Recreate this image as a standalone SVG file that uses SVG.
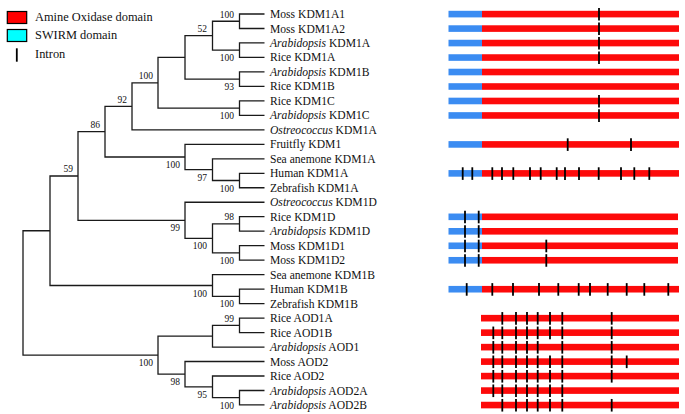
<svg xmlns="http://www.w3.org/2000/svg" xmlns:xlink="http://www.w3.org/1999/xlink" width="685" height="414" viewBox="0 0 685 414">
<style>
.br{fill:none;stroke:#1a1a1a;stroke-width:1.3}
.bs{font-family:"Liberation Serif","Times New Roman",serif;font-size:9.5px;fill:#111;text-anchor:end}
.lf{font-family:"Liberation Serif","Times New Roman",serif;font-size:11.6px;fill:#111}
.lg{font-family:"Liberation Serif","Times New Roman",serif;font-size:12.4px;fill:#111}
.it{font-style:italic}
.ao{fill:#fd0a0a}
.sw{fill:#3b8cf2}
.in{stroke:#000;stroke-width:1.8}
</style>
<defs>
<path id="in" class="in" d="M0 -6V6.6"/>
</defs>
<rect width="685" height="414" fill="#fff"/>
<g id="legend">
<rect x="7.3" y="11.5" width="19.4" height="12" fill="#ff0000" stroke="#000" stroke-width="1.2"/>
<rect x="7.3" y="29.5" width="19.4" height="12" fill="#00ffff" stroke="#000" stroke-width="1.2"/>
<path d="M16.8 48.3V61.7" stroke="#000" stroke-width="1.8"/>
<text class="lg" x="35" y="20.8">Amine Oxidase domain</text>
<text class="lg" x="35" y="39">SWIRM domain</text>
<text class="lg" x="35" y="58">Intron</text>
</g>
<g id="connectors">
<path class="br" d="M264.5 14H239.5V28.48H264.5"/>
<path class="br" d="M264.5 42.96H239.5V57.44H264.5"/>
<path class="br" d="M239.5 21.24H212.5V50.2H239.5"/>
<path class="br" d="M264.5 71.92H239.5V86.4H264.5"/>
<path class="br" d="M212.5 35.72H185V79.16H239.5"/>
<path class="br" d="M264.5 100.88H239.5V115.36H264.5"/>
<path class="br" d="M185 57.44H158V108.12H239.5"/>
<path class="br" d="M158 82.78H132V129.84H264.5"/>
<path class="br" d="M264.5 173.28H239.5V187.76H264.5"/>
<path class="br" d="M264.5 158.8H212.5V180.52H239.5"/>
<path class="br" d="M264.5 144.32H185V169.66H212.5"/>
<path class="br" d="M132 106.31H105V156.99H185"/>
<path class="br" d="M264.5 216.72H239.5V231.2H264.5"/>
<path class="br" d="M264.5 245.68H239.5V260.16H264.5"/>
<path class="br" d="M239.5 223.96H212.5V252.92H239.5"/>
<path class="br" d="M264.5 202.24H185V238.44H212.5"/>
<path class="br" d="M105 131.65H78V220.34H185"/>
<path class="br" d="M264.5 289.12H239.5V303.6H264.5"/>
<path class="br" d="M264.5 274.64H212.5V296.36H239.5"/>
<path class="br" d="M78 175.99H50V285.5H212.5"/>
<path class="br" d="M264.5 318.08H239.5V332.56H264.5"/>
<path class="br" d="M239.5 325.32H212.5V347.04H264.5"/>
<path class="br" d="M264.5 390.48H239.5V404.96H264.5"/>
<path class="br" d="M264.5 376H212.5V397.72H239.5"/>
<path class="br" d="M264.5 361.52H185V386.86H212.5"/>
<path class="br" d="M212.5 336.18H158V374.19H185"/>
<path class="br" d="M50 230.75H23V355.19H158"/>
</g>
<g id="bootstrap">
<text class="bs" x="234" y="17.5">100</text>
<text class="bs" x="234" y="61.2">100</text>
<text class="bs" x="207" y="32">52</text>
<text class="bs" x="234" y="89.5">93</text>
<text class="bs" x="234" y="119">100</text>
<text class="bs" x="153" y="79">100</text>
<text class="bs" x="127" y="102.6">92</text>
<text class="bs" x="100" y="128">86</text>
<text class="bs" x="180" y="168">100</text>
<text class="bs" x="207" y="180.7">97</text>
<text class="bs" x="234" y="191.5">100</text>
<text class="bs" x="234" y="220.3">98</text>
<text class="bs" x="180" y="231.3">99</text>
<text class="bs" x="207" y="249.4">100</text>
<text class="bs" x="234" y="264">100</text>
<text class="bs" x="73" y="172.3">59</text>
<text class="bs" x="207" y="296.5">100</text>
<text class="bs" x="234" y="307.4">100</text>
<text class="bs" x="234" y="321.6">99</text>
<text class="bs" x="153" y="366.2">100</text>
<text class="bs" x="180" y="385.2">98</text>
<text class="bs" x="207" y="397.9">95</text>
<text class="bs" x="234" y="408.7">100</text>
</g>
<g id="moss-kdm1a1"><text class="lf" x="270" y="18">Moss KDM1A1</text><rect class="sw" x="448.5" y="10.8" width="33.5" height="6.6"/><rect class="ao" x="482" y="10.8" width="197" height="6.6"/><use xlink:href="#in" x="599" y="14"/></g>
<g id="moss-kdm1a2"><text class="lf" x="270" y="32.5">Moss KDM1A2</text><rect class="sw" x="448.5" y="25.28" width="33.5" height="6.6"/><rect class="ao" x="482" y="25.28" width="197" height="6.6"/><use xlink:href="#in" x="599" y="28.48"/></g>
<g id="arabidopsis-kdm1a"><text class="lf" x="270" y="47"><tspan class="it">Arabidopsis</tspan> KDM1A</text><rect class="sw" x="448.5" y="39.76" width="33.5" height="6.6"/><rect class="ao" x="482" y="39.76" width="197" height="6.6"/><use xlink:href="#in" x="599" y="42.96"/></g>
<g id="rice-kdm1a"><text class="lf" x="270" y="61.4">Rice KDM1A</text><rect class="sw" x="448.5" y="54.24" width="33.5" height="6.6"/><rect class="ao" x="482" y="54.24" width="197" height="6.6"/><use xlink:href="#in" x="599" y="57.44"/></g>
<g id="arabidopsis-kdm1b"><text class="lf" x="270" y="75.9"><tspan class="it">Arabidopsis</tspan> KDM1B</text><rect class="sw" x="448.5" y="68.72" width="33.5" height="6.6"/><rect class="ao" x="482" y="68.72" width="197" height="6.6"/></g>
<g id="rice-kdm1b"><text class="lf" x="270" y="90.4">Rice KDM1B</text><rect class="sw" x="448.5" y="83.2" width="33.5" height="6.6"/><rect class="ao" x="482" y="83.2" width="197" height="6.6"/></g>
<g id="rice-kdm1c"><text class="lf" x="270" y="104.9">Rice KDM1C</text><rect class="sw" x="448.5" y="97.68" width="33.5" height="6.6"/><rect class="ao" x="482" y="97.68" width="197" height="6.6"/><use xlink:href="#in" x="599" y="100.88"/></g>
<g id="arabidopsis-kdm1c"><text class="lf" x="270" y="119.4"><tspan class="it">Arabidopsis</tspan> KDM1C</text><rect class="sw" x="448.5" y="112.16" width="33.5" height="6.6"/><rect class="ao" x="482" y="112.16" width="197" height="6.6"/><use xlink:href="#in" x="599" y="115.36"/></g>
<g id="ostreococcus-kdm1a"><text class="lf" x="270" y="133.8"><tspan class="it">Ostreococcus</tspan> KDM1A</text></g>
<g id="fruitfly-kdm1"><text class="lf" x="270" y="148.3">Fruitfly KDM1</text><rect class="sw" x="448.5" y="141.12" width="33.5" height="6.6"/><rect class="ao" x="482" y="141.12" width="197" height="6.6"/><use xlink:href="#in" x="567.7" y="144.32"/><use xlink:href="#in" x="631" y="144.32"/></g>
<g id="sea-anemone-kdm1a"><text class="lf" x="270" y="162.8">Sea anemone KDM1A</text></g>
<g id="human-kdm1a"><text class="lf" x="270" y="177.3">Human KDM1A</text><rect class="sw" x="448.5" y="170.08" width="33.5" height="6.6"/><rect class="ao" x="482" y="170.08" width="197" height="6.6"/>
<use xlink:href="#in" x="462.7" y="173.28"/><use xlink:href="#in" x="472.3" y="173.28"/><use xlink:href="#in" x="492.3" y="173.28"/><use xlink:href="#in" x="502" y="173.28"/><use xlink:href="#in" x="513.3" y="173.28"/><use xlink:href="#in" x="530" y="173.28"/><use xlink:href="#in" x="540.7" y="173.28"/><use xlink:href="#in" x="556.7" y="173.28"/><use xlink:href="#in" x="565" y="173.28"/><use xlink:href="#in" x="579" y="173.28"/><use xlink:href="#in" x="598.7" y="173.28"/><use xlink:href="#in" x="621" y="173.28"/><use xlink:href="#in" x="634.3" y="173.28"/><use xlink:href="#in" x="649.3" y="173.28"/></g>
<g id="zebrafish-kdm1a"><text class="lf" x="270" y="191.8">Zebrafish KDM1A</text></g>
<g id="ostreococcus-kdm1d"><text class="lf" x="270" y="206.2"><tspan class="it">Ostreococcus</tspan> KDM1D</text></g>
<g id="rice-kdm1d"><text class="lf" x="270" y="220.7">Rice KDM1D</text><rect class="sw" x="448.5" y="213.52" width="33.5" height="6.6"/><rect class="ao" x="482" y="213.52" width="196" height="6.6"/><use xlink:href="#in" x="465" y="216.72"/><use xlink:href="#in" x="478.7" y="216.72"/></g>
<g id="arabidopsis-kdm1d"><text class="lf" x="270" y="235.2"><tspan class="it">Arabidopsis</tspan> KDM1D</text><rect class="sw" x="448.5" y="228" width="33.5" height="6.6"/><rect class="ao" x="482" y="228" width="196" height="6.6"/><use xlink:href="#in" x="465" y="231.2"/><use xlink:href="#in" x="478.7" y="231.2"/></g>
<g id="moss-kdm1d1"><text class="lf" x="270" y="249.7">Moss KDM1D1</text><rect class="sw" x="448.5" y="242.48" width="33.5" height="6.6"/><rect class="ao" x="482" y="242.48" width="196" height="6.6"/><use xlink:href="#in" x="465" y="245.68"/><use xlink:href="#in" x="478.7" y="245.68"/><use xlink:href="#in" x="546.3" y="245.68"/></g>
<g id="moss-kdm1d2"><text class="lf" x="270" y="264.2">Moss KDM1D2</text><rect class="sw" x="448.5" y="256.96" width="33.5" height="6.6"/><rect class="ao" x="482" y="256.96" width="196" height="6.6"/><use xlink:href="#in" x="465" y="260.16"/><use xlink:href="#in" x="478.7" y="260.16"/><use xlink:href="#in" x="546.3" y="260.16"/></g>
<g id="sea-anemone-kdm1b"><text class="lf" x="270" y="278.6">Sea anemone KDM1B</text></g>
<g id="human-kdm1b"><text class="lf" x="270" y="293.1">Human KDM1B</text><rect class="sw" x="448.5" y="285.92" width="33.5" height="6.6"/><rect class="ao" x="482" y="285.92" width="197" height="6.6"/>
<use xlink:href="#in" x="466.7" y="289.12"/><use xlink:href="#in" x="492.3" y="289.12"/><use xlink:href="#in" x="513" y="289.12"/><use xlink:href="#in" x="539" y="289.12"/><use xlink:href="#in" x="558.3" y="289.12"/><use xlink:href="#in" x="578.7" y="289.12"/><use xlink:href="#in" x="590" y="289.12"/><use xlink:href="#in" x="607.7" y="289.12"/><use xlink:href="#in" x="626.7" y="289.12"/><use xlink:href="#in" x="644.3" y="289.12"/><use xlink:href="#in" x="668.3" y="289.12"/></g>
<g id="zebrafish-kdm1b"><text class="lf" x="270" y="307.6">Zebrafish KDM1B</text></g>
<g id="rice-aod1a"><text class="lf" x="270" y="322.1">Rice AOD1A</text><rect class="ao" x="481" y="314.88" width="198" height="6.6"/>
<use xlink:href="#in" x="502.3" y="318.08"/><use xlink:href="#in" x="516" y="318.08"/><use xlink:href="#in" x="527" y="318.08"/><use xlink:href="#in" x="537.7" y="318.08"/><use xlink:href="#in" x="550" y="318.08"/><use xlink:href="#in" x="562.3" y="318.08"/><use xlink:href="#in" x="611.7" y="318.08"/></g>
<g id="rice-aod1b"><text class="lf" x="270" y="336.6">Rice AOD1B</text><rect class="ao" x="481" y="329.36" width="198" height="6.6"/>
<use xlink:href="#in" x="493.3" y="332.56"/><use xlink:href="#in" x="502.3" y="332.56"/><use xlink:href="#in" x="516" y="332.56"/><use xlink:href="#in" x="527" y="332.56"/><use xlink:href="#in" x="537.7" y="332.56"/><use xlink:href="#in" x="550" y="332.56"/><use xlink:href="#in" x="562.3" y="332.56"/><use xlink:href="#in" x="611.7" y="332.56"/></g>
<g id="arabidopsis-aod1"><text class="lf" x="270" y="351"><tspan class="it">Arabidopsis</tspan> AOD1</text><rect class="ao" x="481" y="343.84" width="198" height="6.6"/>
<use xlink:href="#in" x="493.3" y="347.04"/><use xlink:href="#in" x="502.3" y="347.04"/><use xlink:href="#in" x="516" y="347.04"/><use xlink:href="#in" x="527" y="347.04"/><use xlink:href="#in" x="537.7" y="347.04"/><use xlink:href="#in" x="562.3" y="347.04"/><use xlink:href="#in" x="611.7" y="347.04"/></g>
<g id="moss-aod2"><text class="lf" x="270" y="365.5">Moss AOD2</text><rect class="ao" x="481" y="358.32" width="198" height="6.6"/>
<use xlink:href="#in" x="493.3" y="361.52"/><use xlink:href="#in" x="502.3" y="361.52"/><use xlink:href="#in" x="516" y="361.52"/><use xlink:href="#in" x="527" y="361.52"/><use xlink:href="#in" x="537.7" y="361.52"/><use xlink:href="#in" x="550" y="361.52"/><use xlink:href="#in" x="562.3" y="361.52"/><use xlink:href="#in" x="611.7" y="361.52"/><use xlink:href="#in" x="626.7" y="361.52"/></g>
<g id="rice-aod2"><text class="lf" x="270" y="380">Rice AOD2</text><rect class="ao" x="481" y="372.8" width="198" height="6.6"/>
<use xlink:href="#in" x="493.3" y="376"/><use xlink:href="#in" x="502.3" y="376"/><use xlink:href="#in" x="516" y="376"/><use xlink:href="#in" x="527" y="376"/><use xlink:href="#in" x="537.7" y="376"/><use xlink:href="#in" x="550" y="376"/><use xlink:href="#in" x="562.3" y="376"/><use xlink:href="#in" x="611.7" y="376"/></g>
<g id="arabidopsis-aod2a"><text class="lf" x="270" y="394.5"><tspan class="it">Arabidopsis</tspan> AOD2A</text><rect class="ao" x="481" y="387.28" width="198" height="6.6"/>
<use xlink:href="#in" x="493.3" y="390.48"/><use xlink:href="#in" x="502.3" y="390.48"/><use xlink:href="#in" x="516" y="390.48"/><use xlink:href="#in" x="527" y="390.48"/><use xlink:href="#in" x="537.7" y="390.48"/><use xlink:href="#in" x="550" y="390.48"/><use xlink:href="#in" x="562.3" y="390.48"/></g>
<g id="arabidopsis-aod2b"><text class="lf" x="270" y="409"><tspan class="it">Arabidopsis</tspan> AOD2B</text><rect class="ao" x="481" y="401.76" width="198" height="6.6"/>
<use xlink:href="#in" x="502.3" y="404.96"/><use xlink:href="#in" x="516" y="404.96"/><use xlink:href="#in" x="527" y="404.96"/><use xlink:href="#in" x="537.7" y="404.96"/><use xlink:href="#in" x="550" y="404.96"/><use xlink:href="#in" x="562.3" y="404.96"/><use xlink:href="#in" x="611.7" y="404.96"/></g>
</svg>
